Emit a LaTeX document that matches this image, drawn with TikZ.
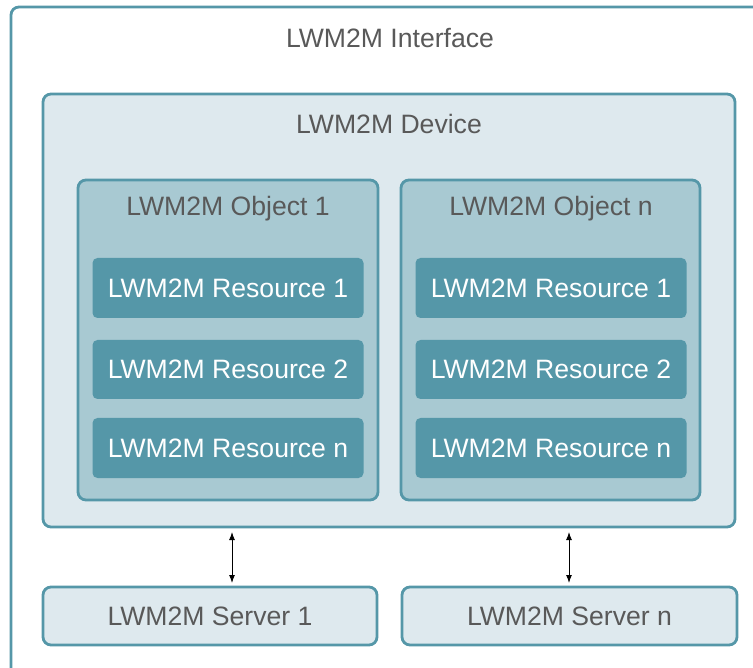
\documentclass[tikz,border=0pt]{standalone}
\usepackage{fontspec}
\setmainfont{Liberation Sans}
\usetikzlibrary{arrows.meta}
\definecolor{teal}{HTML}{5597A8}
\definecolor{devfill}{HTML}{DEE9EE}
\definecolor{objfill}{HTML}{A8C9D2}
\definecolor{txt}{HTML}{595959}
\newcommand{\dfont}{\fontsize{26.6}{32}\selectfont}
\tikzset{
  box/.style={draw=teal, line width=2.8pt, rounded corners=8pt, inner sep=0pt},
  devbox/.style={box, fill=devfill},
  objbox/.style={box, fill=objfill},
  resbox/.style={fill=teal, rounded corners=5pt, inner sep=0pt, text=white, font=\dfont},
  srvbox/.style={box, fill=devfill, text=txt, font=\dfont},
  title/.style={text=txt, font=\dfont, inner sep=0pt},
  link/.style={black, line width=1pt, {Latex[length=8pt,width=6pt]}-{Latex[length=8pt,width=6pt]}}
}
\begin{document}
\begin{tikzpicture}[x=1pt,y=-1pt]
\useasboundingbox (0,0) rectangle (753,668);
\begin{scope}
\clip (0,0) rectangle (753,668);
\draw[box] (11,7) rectangle (790,700);
\end{scope}
\node[title] (ifc) at (390,38) {LWM2M Interface};
% device
\draw[devbox] (43,94) rectangle (735,527);
\coordinate (dev) at (389,310);
\node[title] (devt) at (389,124) {LWM2M Device};
% objects
\draw[objbox] (78,180) rectangle (378,500);
\draw[objbox] (401,180) rectangle (700,500);
\node[title] (o1) at (228,209) {LWM2M Object 1};
\node[title] (on) at (551,209) {LWM2M Object n};
% resources
\foreach \cx/\n in {228/a,551/b}{
  \node[resbox, minimum width=271pt, minimum height=60pt] (r1\n) at (\cx,288) {LWM2M Resource 1};
  \node[resbox, minimum width=271pt, minimum height=59pt] (r2\n) at (\cx,369.5) {LWM2M Resource 2};
  \node[resbox, minimum width=271pt, minimum height=60pt] (r3\n) at (\cx,448) {LWM2M Resource n};
}
% servers
\node[srvbox, minimum width=334pt, minimum height=58pt] (s1) at (210,616) {LWM2M Server 1};
\node[srvbox, minimum width=335pt, minimum height=58pt] (sn) at (569.5,616) {LWM2M Server n};
\coordinate (a1t) at (232,532);
\coordinate (a1b) at (232,583);
\coordinate (a2t) at (569,532);
\coordinate (a2b) at (569,583);
\draw[link] (a1t) -- (a1b);
\draw[link] (a2t) -- (a2b);
\end{tikzpicture}
\end{document}
